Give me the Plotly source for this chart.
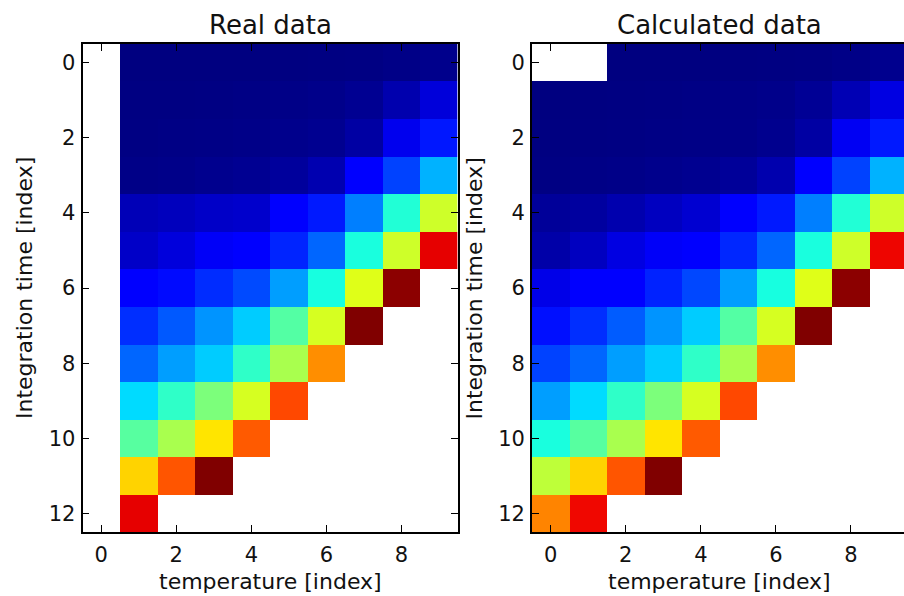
import plotly.graph_objects as go

# ---------------------------------------------------------------------------
# Data: rows = integration time index (0..12), columns = temperature index (0..9)
# None marks cells without a value.
# ---------------------------------------------------------------------------
temperature_idx = list(range(10))
integration_idx = list(range(13))
x_ticks = [0, 2, 4, 6, 8]
y_ticks = [0, 2, 4, 6, 8, 10, 12]

real_data = [
    [None, 0.000, 0.000, 0.000, 0.000, 0.001, 0.002, 0.003, 0.006, 0.010],
    [None, 0.002, 0.002, 0.003, 0.004, 0.006, 0.009, 0.016, 0.040, 0.078],
    [None, 0.003, 0.004, 0.005, 0.007, 0.010, 0.014, 0.030, 0.095, 0.148],
    [None, 0.006, 0.008, 0.012, 0.016, 0.024, 0.042, 0.112, 0.190, 0.300],
    [None, 0.048, 0.053, 0.062, 0.066, 0.115, 0.150, 0.250, 0.390, 0.600],
    [None, 0.062, 0.080, 0.104, 0.115, 0.160, 0.225, 0.380, 0.600, 0.912],
    [None, 0.120, 0.135, 0.168, 0.198, 0.280, 0.378, 0.620, 0.990, None],
    [None, 0.170, 0.212, 0.270, 0.325, 0.450, 0.610, 1.000, None, None],
    [None, 0.225, 0.280, 0.325, 0.406, 0.555, 0.760, None, None, None],
    [None, 0.340, 0.406, 0.500, 0.610, 0.834, None, None, None, None],
    [None, 0.455, 0.555, 0.667, 0.815, None, None, None, None, None],
    [None, 0.686, 0.820, 1.000, None, None, None, None, None, None],
    [None, 0.912, None, None, None, None, None, None, None, None],
]

calculated_data = [
    [None, None, 0.000, 0.000, 0.000, 0.001, 0.002, 0.003, 0.006, 0.012],
    [0.000, 0.001, 0.002, 0.003, 0.004, 0.006, 0.009, 0.018, 0.045, 0.085],
    [0.001, 0.002, 0.003, 0.004, 0.005, 0.007, 0.012, 0.030, 0.100, 0.150],
    [0.003, 0.005, 0.007, 0.010, 0.014, 0.022, 0.040, 0.115, 0.190, 0.300],
    [0.022, 0.027, 0.040, 0.055, 0.070, 0.115, 0.150, 0.250, 0.390, 0.600],
    [0.035, 0.055, 0.085, 0.105, 0.120, 0.163, 0.225, 0.380, 0.600, 0.905],
    [0.090, 0.118, 0.122, 0.158, 0.195, 0.280, 0.378, 0.620, 0.990, None],
    [0.140, 0.170, 0.215, 0.270, 0.325, 0.450, 0.610, 1.000, None, None],
    [0.190, 0.225, 0.280, 0.325, 0.406, 0.555, 0.760, None, None, None],
    [0.280, 0.340, 0.406, 0.500, 0.610, 0.834, None, None, None, None],
    [0.380, 0.455, 0.555, 0.667, 0.815, None, None, None, None, None],
    [0.580, 0.686, 0.820, 1.000, None, None, None, None, None, None],
    [0.770, 0.903, None, None, None, None, None, None, None, None],
]


# ---------------------------------------------------------------------------
# "jet" colour map as piecewise-linear stops
# ---------------------------------------------------------------------------
def _interp(v, pts):
    for (x0, y0), (x1, y1) in zip(pts[:-1], pts[1:]):
        if x0 <= v <= x1:
            return y0 if x1 == x0 else y0 + (y1 - y0) * (v - x0) / (x1 - x0)
    return pts[-1][1]


_R = [(0, 0), (0.35, 0), (0.66, 1), (0.89, 1), (1, 0.5)]
_G = [(0, 0), (0.125, 0), (0.375, 1), (0.64, 1), (0.91, 0), (1, 0)]
_B = [(0, 0.5), (0.11, 1), (0.34, 1), (0.65, 0), (1, 0)]
_stops = sorted({p for seg in (_R, _G, _B) for p, _ in seg})
jet = [
    [s, "rgb({:.0f},{:.0f},{:.0f})".format(255 * _interp(s, _R),
                                           255 * _interp(s, _G),
                                           255 * _interp(s, _B))]
    for s in _stops
]

# ---------------------------------------------------------------------------
# Geometry (pixels of a 904 x 596 canvas)
# ---------------------------------------------------------------------------
W, H = 904, 596
top, bottom = 43.7, 532.3
l1, r1 = 82.5, 457.7
l2 = 532.0
cell = (r1 - l1) / 10.0
r2 = W  # the second panel runs past the right edge of the canvas
x2_max = -0.5 + (r2 - l2) / cell

def px(x):
    return x / W

def py(y):
    return 1 - y / H

FONT = "DejaVu Sans"
TICK_FONT = dict(family=FONT, size=21, color="#111111")

fig = go.Figure()
fig.add_trace(go.Heatmap(
    z=real_data, x=temperature_idx, y=integration_idx,
    colorscale=jet, zmin=0, zmax=1, showscale=False, hoverinfo="skip",
    xaxis="x", yaxis="y",
))
fig.add_trace(go.Heatmap(
    z=calculated_data, x=temperature_idx, y=integration_idx,
    colorscale=jet, zmin=0, zmax=1, showscale=False, hoverinfo="skip",
    xaxis="x2", yaxis="y2",
))

axis_common = dict(
    ticks="inside", ticklen=7, tickwidth=1, tickcolor="black",
    showline=True, linecolor="black", linewidth=1.8,
    showgrid=False, zeroline=False, tickfont=TICK_FONT,
)

fig.update_layout(
    width=W, height=H,
    margin=dict(l=0, r=0, t=0, b=0),
    paper_bgcolor="white", plot_bgcolor="white",
    showlegend=False,
    xaxis=dict(domain=[px(l1), px(r1)], range=[-0.5, 9.5], tickvals=x_ticks,
               mirror="ticks", anchor="y", ticklabelstandoff=3, **axis_common),
    yaxis=dict(domain=[py(bottom), py(top)], range=[12.5, -0.5], tickvals=y_ticks,
               mirror="ticks", anchor="x", ticklabelstandoff=1, **axis_common),
    xaxis2=dict(domain=[px(l2), 1.0], range=[-0.5, x2_max], tickvals=x_ticks,
                mirror="ticks", anchor="y2", ticklabelstandoff=3, **axis_common),
    yaxis2=dict(domain=[py(bottom), py(top)], range=[12.5, -0.5], tickvals=y_ticks,
                mirror=False, anchor="x2", ticklabelstandoff=1, **axis_common),
)

label_font = dict(family=FONT, size=22, color="#111111")
title_font = dict(family=FONT, size=26, color="#111111")
texts = [
    ("Real data", (l1 + r1) / 2, 25, 0, title_font),
    ("Calculated data", (l2 + l2 + (r1 - l1)) / 2, 25, 0, title_font),
    ("temperature [index]", (l1 + r1) / 2, 581, 0, label_font),
    ("temperature [index]", (l2 + l2 + (r1 - l1)) / 2, 581, 0, label_font),
    ("Integration time [index]", 24, (top + bottom) / 2, -90, label_font),
    ("Integration time [index]", l2 - (l1 - 24), (top + bottom) / 2, -90, label_font),
]
for text, x, y, ang, f in texts:
    fig.add_annotation(text=text, x=px(x), y=py(y), xref="paper", yref="paper",
                       xanchor="center", yanchor="middle", textangle=ang,
                       showarrow=False, font=f)

fig.write_html("out.html")
